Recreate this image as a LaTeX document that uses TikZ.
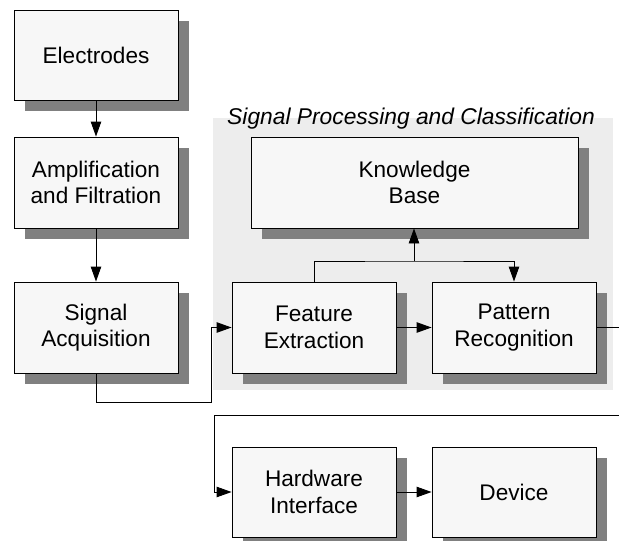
\documentclass[tikz,border=0pt]{standalone}
\usepackage{fontspec}
\setmainfont{Liberation Sans}
\usetikzlibrary{arrows.meta,shadows}
\tikzset{
  blk/.style={draw=black,line width=0.9pt,fill=black!3,minimum width=164pt,minimum height=91pt,align=center,
    font=\fontsize{22.6}{26.5}\selectfont,
    general shadow={fill=black!50,shadow xshift=11pt,shadow yshift=-11pt}},
  arr/.style={draw=black,line width=0.9pt,-{Triangle[length=15pt,width=10.5pt]}},
  ln/.style={draw=black,line width=0.9pt}
}
\begin{document}
\begin{tikzpicture}[x=1pt,y=-1pt]
\useasboundingbox (0,0) rectangle (619,541);
\fill[black!7] (213,118) rectangle (613,390);
\node[font=\fontsize{22.8}{26}\selectfont\itshape] (title) at (411,119) {Signal Processing and Classification};
\node[blk,minimum height=90pt] (el) at (96,55) {Electrodes};
\node[blk] (amp) at (96,182.5) {Amplification\\and Filtration};
\node[blk] (sa) at (96,327.5) {Signal\\Acquisition};
\node[blk,minimum width=327pt] (kb) at (414.5,182.5) {Knowledge\\Base};
\node[blk] (fe) at (314,327.5) {Feature\\Extraction};
\node[blk] (pr) at (514,327.5) {Pattern\\Recognition};
\node[blk,minimum height=90pt] (hw) at (314,492) {Hardware\\Interface};
\node[blk,minimum height=90pt] (dev) at (514,492) {Device};
\coordinate (c1) at (211,402);
\coordinate (j) at (414,261);
\coordinate (e1) at (619,327.5);
\coordinate (e2) at (619,415);
\coordinate (c2) at (214,415);
\draw[arr] (el) -- (amp);
\draw[arr] (amp) -- (sa);
\draw[arr] (sa.south) |- (c1) |- (fe.west);
\draw[arr] (fe.north) |- (j) -| (pr.north);
\draw[arr] (j) -- (kb.south -| j);
\draw[arr] (fe) -- (pr);
\draw[ln] (pr.east) -- (e1);
\draw[arr] (e2) -- (c2) |- (hw.west);
\draw[arr] (hw) -- (dev);
\end{tikzpicture}
\end{document}
